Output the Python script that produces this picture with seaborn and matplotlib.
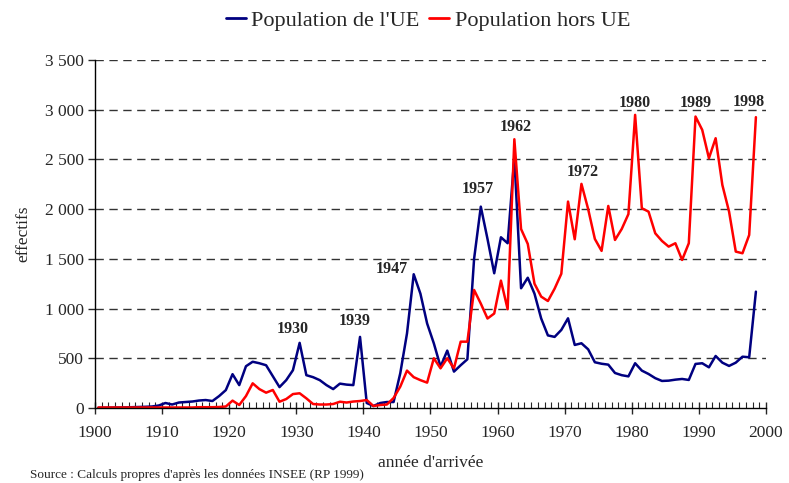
import numpy as np
import pandas as pd
import matplotlib
matplotlib.use("Agg")
import matplotlib.pyplot as plt
from matplotlib.ticker import FuncFormatter, MultipleLocator
from matplotlib.lines import Line2D
import seaborn as sns

years = list(range(1900, 1999))

pop_ue = [2, 3, 4, 5, 6, 8, 10, 12, 15, 25,
          50, 35, 55, 60, 65, 75, 80, 70, 120, 180,
          340, 230, 420, 465, 450, 430, 320, 210, 280, 380,
          655, 330, 310, 280, 230, 190, 245, 235, 230, 715,
          50, 20, 50, 60, 60, 350, 750, 1345, 1150, 850,
          650, 416, 577, 366, 430, 490, 1500, 2025, 1700, 1355,
          1717, 1657, 2520, 1204, 1310, 1150, 900, 730, 715, 785,
          902, 634, 651, 590, 460, 445, 436, 352, 330, 318,
          450, 376, 342, 300, 272, 275, 285, 292, 282, 443,
          450, 409, 523, 456, 423, 456, 516, 510, 1170]

pop_hors_ue = [5, 5, 5, 5, 5, 5, 5, 5, 5, 5,
               5, 5, 5, 5, 5, 8, 8, 8, 10, 15,
               74, 30, 120, 248, 190, 154, 181, 63, 90, 140,
               148, 97, 40, 35, 35, 40, 63, 55, 65, 70,
               80, 20, 30, 35, 100, 215, 376, 310, 280, 255,
               500, 399, 500, 399, 667, 667, 1187, 1050, 900, 950,
               1281, 993, 2703, 1800, 1650, 1250, 1120, 1076, 1200, 1350,
               2076, 1697, 2254, 2000, 1700, 1580, 2032, 1690, 1800, 1950,
               2948, 2009, 1975, 1757, 1680, 1623, 1657, 1489, 1657, 2931,
               2797, 2512, 2713, 2243, 1975, 1573, 1556, 1740, 2925]

series_names = ["Population de l'UE", "Population hors UE"]
peak_years = [1930, 1939, 1947, 1957, 1962, 1972, 1980, 1989, 1998]

x_ticks = list(range(1900, 2001, 10))
y_ticks = list(range(0, 3501, 500))

df = pd.DataFrame({
    "annee": years * 2,
    "effectifs": pop_ue + pop_hors_ue,
    "serie": [series_names[0]] * len(years) + [series_names[1]] * len(years),
})
# points are drawn at the middle of each year's category
df["x"] = df["annee"] + 0.5

sns.set_style("white")
plt.rcParams["font.family"] = ["Liberation Serif", "DejaVu Serif"]

fig = plt.figure(figsize=(7.89, 4.83), dpi=100)
ax = fig.add_axes([0.1204, 0.1553, 0.8504, 0.7205])

palette = {series_names[0]: "#000080", series_names[1]: "#FF0000"}
sns.lineplot(data=df, x="x", y="effectifs", hue="serie", palette=palette,
             linewidth=1.8, ax=ax, legend=False, estimator=None)

ax.set_xlim(1900, 2000)
ax.set_ylim(0, 3500)
ax.set_xticks(x_ticks)
ax.xaxis.set_minor_locator(MultipleLocator(1))
ax.set_yticks(y_ticks)
ax.yaxis.set_major_formatter(FuncFormatter(lambda v, p: f"{int(v):,}".replace(",", " ")))

for yv in y_ticks[1:]:
    ax.axhline(yv, color="#333333", linewidth=1.0, linestyle=(0, (6, 4)), zorder=0)

for s in ["top", "right"]:
    ax.spines[s].set_visible(False)
for s in ["left", "bottom"]:
    ax.spines[s].set_color("#000000")
    ax.spines[s].set_linewidth(1.0)

ax.tick_params(axis="x", which="major", direction="inout", length=8, width=1, labelsize=12.5, pad=8)
ax.tick_params(axis="x", which="minor", direction="in", length=4, width=0.8)
ax.tick_params(axis="y", which="major", direction="out", length=5, width=1, labelsize=12.5, pad=3)
ax.tick_params(bottom=True, left=True, which="both")

ax.set_xlabel("année d'arrivée", fontsize=12.5, labelpad=10)
ax.set_ylabel("effectifs", fontsize=12.5, labelpad=10)

# peak annotations
val_map = {y: max(a, b) for y, a, b in zip(years, pop_ue, pop_hors_ue)}
offsets = {1930: (-5, 4), 1939: (-4, 6), 1947: (-16, -2), 1957: (-2, 7),
           1962: (1, 3), 1972: (1, 3), 1980: (0, 3), 1989: (0, 4), 1998: (-5, 5)}
for yr in peak_years:
    dx, dy = offsets[yr]
    ax.annotate(str(yr), xy=(yr + 0.5, val_map[yr]), xytext=(dx, dy),
                textcoords="offset points", ha="center", va="bottom",
                fontsize=11.5, fontweight="bold")

# legend
handles = [Line2D([0], [0], color=palette[n], linewidth=2) for n in series_names]
fig.legend(handles, series_names, loc="center", bbox_to_anchor=(0.5425, 0.958),
           ncol=2, frameon=False, fontsize=16, handlelength=0.9,
           handletextpad=0.25, columnspacing=0.45)

fig.text(0.038, 0.004, "Source : Calculs propres d'après les données INSEE (RP 1999)",
         fontsize=9.5, ha="left", va="bottom")

fig.savefig("out.png", dpi=100)
